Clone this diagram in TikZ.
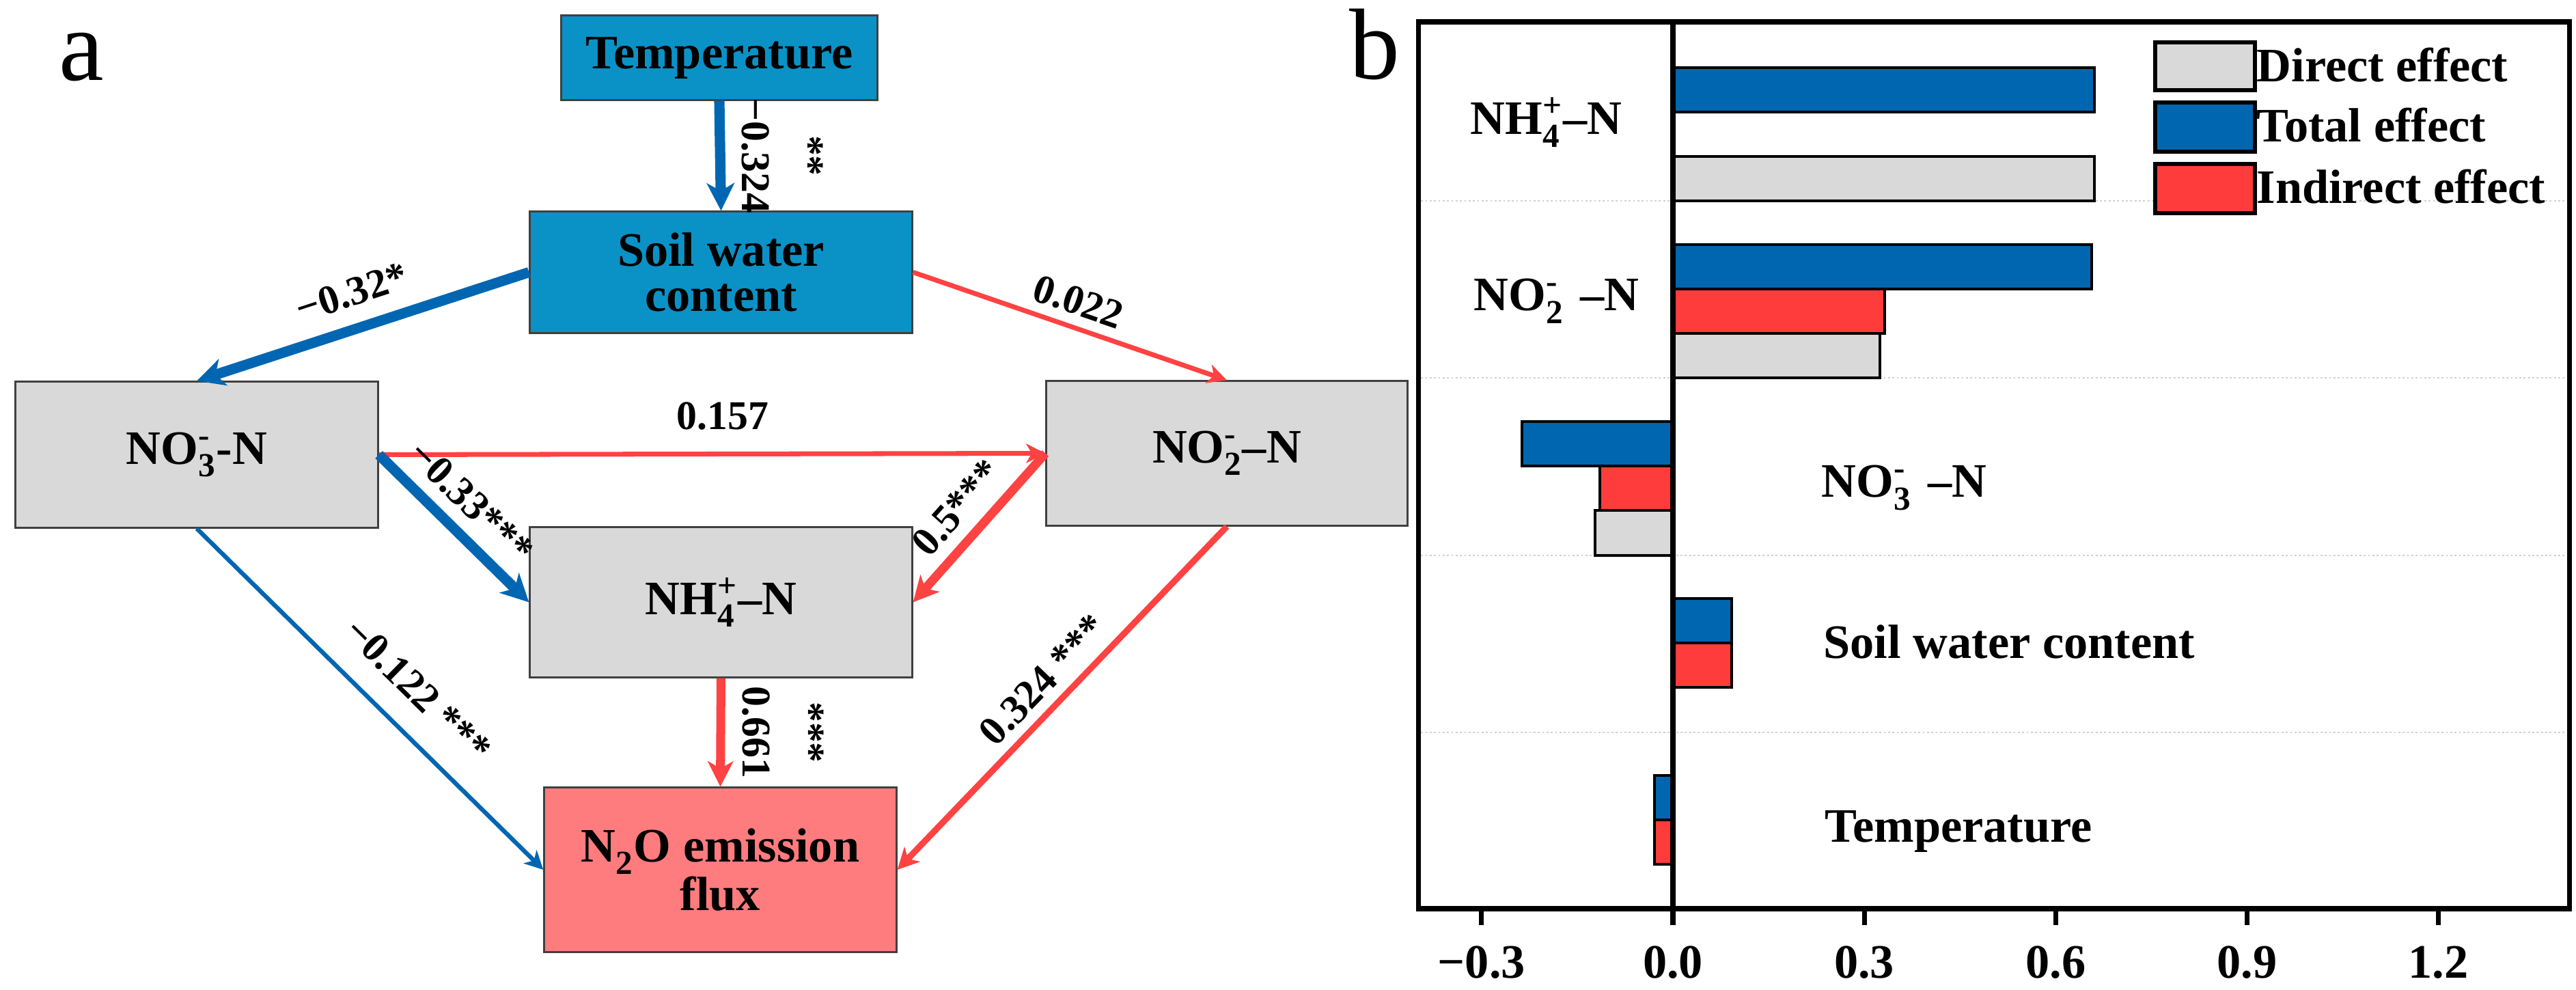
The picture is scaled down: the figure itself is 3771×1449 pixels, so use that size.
\documentclass[tikz,border=0pt]{standalone}
\usepackage{fontspec}
\usepackage{amsmath}
\setmainfont{Liberation Serif}
\usetikzlibrary{arrows.meta}
\definecolor{boxblue}{RGB}{10,146,198}
\definecolor{arrblue}{RGB}{0,102,178}
\definecolor{arrred}{RGB}{255,66,66}
\definecolor{boxgray}{RGB}{217,217,217}
\definecolor{boxpink}{RGB}{255,124,126}
\definecolor{barblue}{RGB}{0,102,175}
\definecolor{barred}{RGB}{255,60,60}
\tikzset{
	varbox/.style={draw=black!75, line width=0.85pt, align=center, inner sep=0pt, font=\fontsize{20}{19}\selectfont\bfseries},
	coef/.style={font=\fontsize{17}{18}\selectfont\bfseries, inner sep=2pt},
	vcoef/.style={coef, rotate=-90, anchor=south, outer sep=7pt},
	bluearr/.style={draw=arrblue, line width=#1, -{Stealth[length=5pt 1.5, width=5pt 1.5, inset=1.5pt 0.4]}},
	redarr/.style={draw=arrred, line width=#1, -{Stealth[length=5pt 1.5, width=5pt 1.5, inset=1.5pt 0.4]}},
	effbox/.style={draw=black, line width=1.1pt},
	gridln/.style={draw=black!18, densely dotted, line width=0.8pt},
	axlbl/.style={font=\fontsize{20}{20}\selectfont\bfseries, inner sep=0pt}
}
\newcommand{\chemion}[2]{$_{\text{#1}}^{\text{#2}}$}
\def\effbar[#1](#2:#3:#4){\draw[effbox, fill=#1] (0,#2) rectangle (#4,#3);}

\begin{document}
\begin{tikzpicture}[x=0.01cm, y=-0.01cm]
				\useasboundingbox (0,0) rectangle (3771,1449);
				
				\node[font=\fontsize{42}{42}\selectfont, anchor=base] (lbla) at (119,118) {a};
				\node[font=\fontsize{42}{42}\selectfont, anchor=base] (lblb) at (2012,116) {b};
				
				\node[varbox, fill=boxblue, minimum width=4.62cm, minimum height=1.23cm] (temp) at (1053,84.5) {Temperature};
				\node[varbox, fill=boxblue, minimum width=5.59cm, minimum height=1.77cm] (swc) at (1055.5,398.5) {Soil water\\content};
				\node[varbox, fill=boxgray, minimum width=5.30cm, minimum height=2.13cm] (nitrate) at (288,665.5) {NO\chemion{3}{-}-N};
				\node[varbox, fill=boxgray, minimum width=5.28cm, minimum height=2.11cm] (nitrite) at (1796,663.5) {NO\chemion{2}{-}–N};
				\node[varbox, fill=boxgray, minimum width=5.59cm, minimum height=2.19cm] (ammonium) at (1055.5,881.5) {NH\chemion{4}{+}–N};
				\node[varbox, fill=boxpink, minimum width=5.15cm, minimum height=2.40cm] (flux) at (1054.5,1273) {N\chemion{2}{}O emission\\flux};
				
				\draw[bluearr=4.3pt] (temp.south) -- node[vcoef, pos=0.5] (c324) {−0.324} (swc.north);
				\node[coef, rotate=-90, anchor=south] at (c324.north) {**};
				\draw[bluearr=4.3pt] (swc.west) -- node[coef, sloped, above=5pt, pos=0.5] {−0.32*} (nitrate.north);
				\draw[redarr=2pt] (swc.east) -- node[coef, sloped, above=2pt, pos=0.5] {0.022} (nitrite.north);
				\draw[redarr=2pt] (nitrate.east) -- node[coef, above=7pt, pos=0.516] {0.157} (nitrite.west);
				\draw[bluearr=4.3pt] (nitrate.east) -- node[coef, sloped, above=3pt, pos=0.47] {−0.33***} (ammonium.west);
				\draw[redarr=3.7pt] (nitrite.west) -- node[coef, sloped, above=3pt, pos=0.5] {0.5***} (ammonium.east);
				\draw[bluearr=1.8pt] (nitrate.south) -- node[coef, sloped, above=8pt, pos=0.557] {−0.122 ***} (flux.west);
				\draw[redarr=2.6pt] (nitrite.south) -- node[coef, sloped, above=2pt, pos=0.5] {0.324 ***} (flux.east);
				\draw[redarr=3.7pt] (ammonium.south) -- node[vcoef, pos=0.5] (c661) {0.661} (flux.north);
				\node[coef, rotate=-90, anchor=south] at (c661.north) {***};
				
				\draw[gridln] (2074,294) -- (3761,294);
				\draw[gridln] (2074,553) -- (3761,553);
				\draw[gridln] (2074,813) -- (3761,813);
				\draw[gridln] (2074,1072) -- (3761,1072);
				
				\begin{scope}[shift={(2449,0)}, x=9.333cm]
					\effbar[barblue](99:164:0.661)
					\effbar[boxgray](229:294:0.661)
					\effbar[barblue](358:423:0.656)
					\effbar[barred](423:488:0.332)
					\effbar[boxgray](488:553:0.324)
					\effbar[barblue](617:682:-0.237)
					\effbar[barred](682:747:-0.115)
					\effbar[boxgray](747:813:-0.122)
					\effbar[barblue](876:941:0.092)
					\effbar[barred](941:1006:0.092)
					\effbar[barblue](1135:1200:-0.029)
					\effbar[barred](1200:1265:-0.029)
					
					\draw[line width=2.3pt] (0,32) -- (0,1354);
					\draw[line width=2pt] (-0.3,1331) -- (-0.3,1354);
					\draw[line width=2pt] (0.3,1331) -- (0.3,1354);
					\draw[line width=2pt] (0.6,1331) -- (0.6,1354);
					\draw[line width=2pt] (0.9,1331) -- (0.9,1354);
					\draw[line width=2pt] (1.2,1331) -- (1.2,1354);
					
					\node[axlbl, anchor=base] (tm3) at (-0.3,1431) {−0.3};
					\node[axlbl, anchor=base] (t0) at (0,1431) {0.0};
					\node[axlbl, anchor=base] (t3) at (0.3,1431) {0.3};
					\node[axlbl, anchor=base] (t6) at (0.6,1431) {0.6};
					\node[axlbl, anchor=base] (t9) at (0.9,1431) {0.9};
					\node[axlbl, anchor=base] (t12) at (1.2,1431) {1.2};
				\end{scope}
				
				\draw[line width=2pt] (2076,32) rectangle (3761,1330);
				
				\node[axlbl, anchor=base west] (catnh) at (2152,197) {NH\chemion{4}{+}–N};
				\node[axlbl, anchor=base west] (catni) at (2157,455) {NO\chemion{2}{-}\,\,–N};
				\node[axlbl, anchor=base west] (catno) at (2666,728) {NO\chemion{3}{-}\,\,–N};
				\node[axlbl, anchor=base west] (catsw) at (2669,963) {Soil water content};
				\node[axlbl, anchor=base west] (catte) at (2671,1232) {Temperature};
				
				\draw[line width=1.7pt, fill=boxgray] (3155,62) rectangle (3301,132);
				\draw[line width=1.7pt, fill=barblue] (3155,150) rectangle (3301,222);
				\draw[line width=1.7pt, fill=barred] (3155,240) rectangle (3301,312);
				\node[axlbl, anchor=base west] (legd) at (3303,120) {Direct effect};
				\node[axlbl, anchor=base west] (legt) at (3303,208) {Total effect};
				\node[axlbl, anchor=base west] (legi) at (3303,298) {Indirect effect};
			\end{tikzpicture}
\end{document}
